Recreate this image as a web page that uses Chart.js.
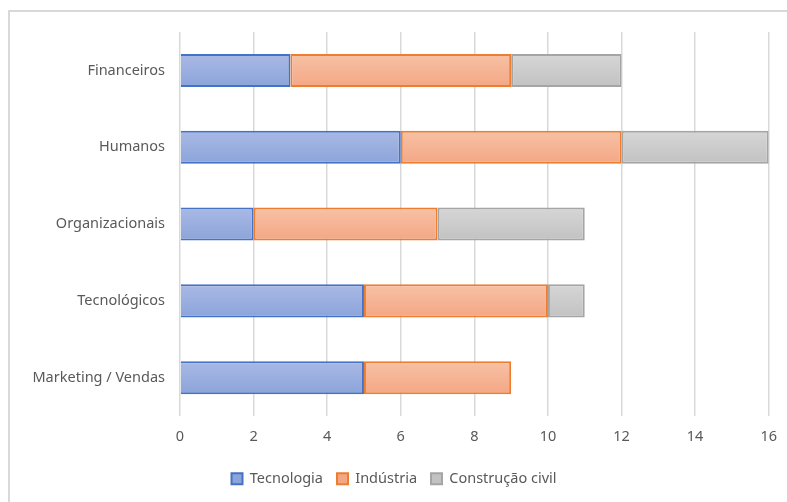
<!DOCTYPE html>
<html>
<head>
<meta charset="utf-8">
<script src="https://cdn.jsdelivr.net/npm/chart.js@4.4.0/dist/chart.umd.min.js"></script>
<style>
    body { margin: 0; background: #fff; overflow: hidden; }
    #frame {
        position: absolute;
        left: 8px;
        top: 10px;
        width: 779px;
        height: 492px;
        border-left: 2px solid #d9d9d9;
        border-top: 2px solid #d9d9d9;
        box-sizing: border-box;
    }
    #chart-wrap { position: absolute; left: 0; top: 0; width: 779px; height: 490px; }
</style>
</head>
<body>
<div id="frame">
    <div id="chart-wrap"><canvas id="risk-chart"></canvas></div>
</div>
<script>
// Chart data
let categories = ["Financeiros", "Humanos", "Organizacionais", "Tecnológicos", "Marketing / Vendas"];
let tecnologia = [3, 6, 2, 5, 5];
let industria = [6, 6, 5, 5, 4];
let construcao = [3, 4, 4, 1, 0];
let seriesNames = ["Tecnologia", "Indústria", "Construção civil"];

let textColor = "#595959";
let gridColor = "#d9d9d9";
let barFraction = 0.43;
let fontFamily = "'Noto Sans', sans-serif";

// gradient per bar, top lighter -> bottom darker
function barGradient(top, bottom, fallback) {
    return function (ctx) {
        const chart = ctx.chart;
        if (!chart.chartArea || ctx.dataIndex === undefined) {
            return fallback;
        }
        const yScale = chart.scales.y;
        const center = yScale.getPixelForValue(ctx.dataIndex);
        const band = Math.abs(yScale.getPixelForValue(1) - yScale.getPixelForValue(0));
        const half = (band * barFraction) / 2;
        const g = chart.ctx.createLinearGradient(0, center - half, 0, center + half);
        g.addColorStop(0, top);
        g.addColorStop(1, bottom);
        return g;
    };
}

const ctx = document.getElementById("risk-chart").getContext("2d");
const riskChart = new Chart(ctx, {
    type: "bar",
    data: {
        labels: categories,
        datasets: [
            {
                label: seriesNames[0],
                data: tecnologia,
                backgroundColor: barGradient("#aab9e5", "#8ba4da", "#9aaedf"),
                borderColor: "#4472c4",
                borderWidth: 2,
                borderSkipped: "start",
            },
            {
                label: seriesNames[1],
                data: industria,
                backgroundColor: barGradient("#f7c1a5", "#f4a785", "#f5b495"),
                borderColor: "#ed7d31",
                borderWidth: 2,
                borderSkipped: false,
            },
            {
                label: seriesNames[2],
                data: construcao,
                backgroundColor: barGradient("#d6d6d6", "#c2c2c2", "#cccccc"),
                borderColor: "#a5a5a5",
                borderWidth: 2,
                borderSkipped: false,
            },
        ],
    },
    options: {
        indexAxis: "y",
        responsive: true,
        maintainAspectRatio: false,
        animation: false,
        barPercentage: barFraction,
        categoryPercentage: 1,
        layout: {
            padding: { top: 20, right: 11, bottom: 6, left: 0 },
        },
        plugins: {
            tooltip: { enabled: false },
            legend: {
                position: "bottom",
                labels: {
                    color: textColor,
                    boxWidth: 11,
                    boxHeight: 11,
                    padding: 14,
                    font: { family: fontFamily, size: 14.5 },
                },
            },
        },
        scales: {
            x: {
                stacked: true,
                min: 0,
                max: 16,
                ticks: {
                    stepSize: 2,
                    color: textColor,
                    padding: 12,
                    font: { family: fontFamily, size: 14.5 },
                },
                grid: {
                    color: gridColor,
                    lineWidth: 1.5,
                    drawTicks: false,
                },
                border: { display: false },
            },
            y: {
                stacked: true,
                afterFit: function (scale) {
                    scale.width = 170;
                },
                ticks: {
                    color: textColor,
                    padding: 7,
                    font: { family: fontFamily, size: 14.5 },
                },
                grid: { display: false },
                border: { display: false },
            },
        },
    },
});
</script>
</body>
</html>
